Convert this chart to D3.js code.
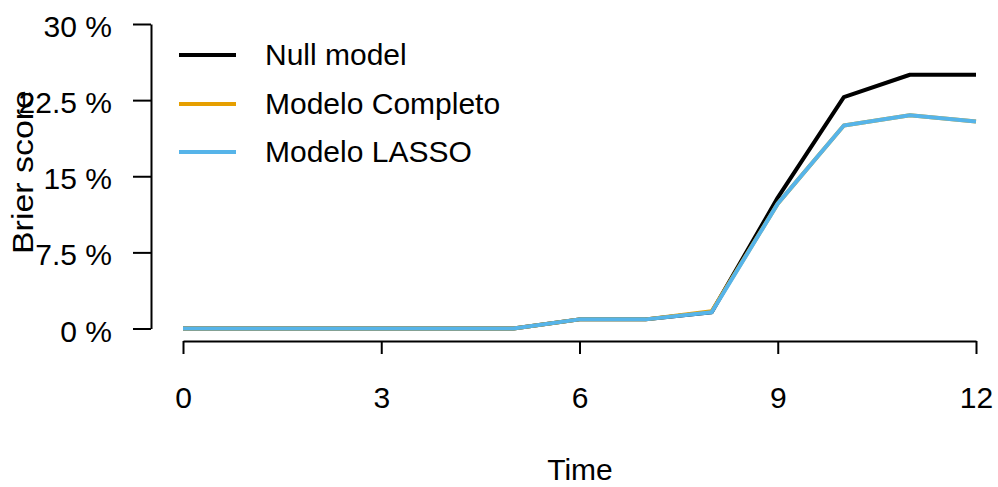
<!DOCTYPE html>
<html>
<head>
<meta charset="utf-8">
<script src="https://cdnjs.cloudflare.com/ajax/libs/d3/7.8.5/d3.min.js"></script>
<style>
  html, body { margin: 0; padding: 0; background: #fff; }
  svg { display: block; font-family: "Liberation Sans", Arial, sans-serif; }
</style>
</head>
<body>
<svg id="chart" width="998" height="487"></svg>
<script>
// Prediction error curves (Brier score, %) over time
const times = [0, 1, 2, 3, 4, 5, 6, 7, 8, 9, 10, 11, 12];
const nullModel = [0, 0, 0, 0, 0, 0, 0.9, 0.9, 1.6, 12.9, 22.8, 25.0, 25.0];
const modeloCompleto = [0, 0, 0, 0, 0, 0, 0.9, 0.9, 1.7, 12.3, 20.0, 21.0, 20.4];
const modeloLasso = [0, 0, 0, 0, 0, 0, 0.9, 0.9, 1.6, 12.3, 20.0, 21.0, 20.4];

const seriesNames = ["Null model", "Modelo Completo", "Modelo LASSO"];
const seriesColors = ["#000000", "#E69F00", "#56B4E9"];
const seriesValues = [nullModel, modeloCompleto, modeloLasso];

const xTicks = [0, 3, 6, 9, 12];
const yTicks = [0, 7.5, 15, 22.5, 30];
const yTickLabels = ["0 %", "7.5 %", "15 %", "22.5 %", "30 %"];

const FONT = 30;
const svg = d3.select("#chart");

const x = d3.scaleLinear().domain([0, 12]).range([183, 976]);
const y = d3.scaleLinear().domain([0, 30]).range([328.5, 24]);

// y axis (offset to the left of the plotting region)
const yAxis = d3.axisLeft(y)
  .tickValues(yTicks)
  .tickFormat((d, i) => yTickLabels[i])
  .tickSize(18)
  .tickSizeOuter(0)
  .tickPadding(21);
const gy = svg.append("g").attr("transform", "translate(151,0)").call(yAxis);
gy.select(".domain").attr("stroke", "#000").attr("stroke-width", 2);
gy.selectAll(".tick line").attr("stroke", "#000").attr("stroke-width", 2);
gy.selectAll(".tick text").attr("font-size", FONT).attr("fill", "#000")
  .attr("dy", 12.5)
  .attr("font-family", "Liberation Sans, Arial, sans-serif");

// x axis (offset below the plotting region)
const xAxis = d3.axisBottom(x)
  .tickValues(xTicks)
  .tickFormat(d3.format("d"))
  .tickSize(13)
  .tickSizeOuter(0)
  .tickPadding(33);
const gx = svg.append("g").attr("transform", "translate(0,341)").call(xAxis);
gx.select(".domain").attr("stroke", "#000").attr("stroke-width", 2);
gx.selectAll(".tick line").attr("stroke", "#000").attr("stroke-width", 2);
gx.selectAll(".tick text").attr("font-size", FONT).attr("fill", "#000")
  .attr("font-family", "Liberation Sans, Arial, sans-serif");

// Axis titles
svg.append("text")
  .attr("x", 580).attr("y", 480)
  .attr("text-anchor", "middle")
  .attr("font-size", FONT)
  .text("Time");

svg.append("text")
  .attr("transform", "translate(33,172) rotate(-90)")
  .attr("text-anchor", "middle")
  .attr("font-size", FONT)
  .attr("textLength", 164)
  .attr("lengthAdjust", "spacingAndGlyphs")
  .text("Brier score");

// Curves
const line = d3.line()
  .x((d, i) => x(times[i]))
  .y(d => y(d));

seriesValues.forEach((vals, k) => {
  svg.append("path")
    .datum(vals)
    .attr("fill", "none")
    .attr("stroke", seriesColors[k])
    .attr("stroke-width", 4)
    .attr("stroke-linejoin", "round")
    .attr("d", line);
});

// Legend
const legendY = [55, 104, 152];
seriesNames.forEach((name, k) => {
  svg.append("line")
    .attr("x1", 179).attr("x2", 236)
    .attr("y1", legendY[k]).attr("y2", legendY[k])
    .attr("stroke", seriesColors[k])
    .attr("stroke-width", 4);
  svg.append("text")
    .attr("x", 265).attr("y", legendY[k] + 10)
    .attr("font-size", FONT)
    .text(name);
});
</script>
</body>
</html>
